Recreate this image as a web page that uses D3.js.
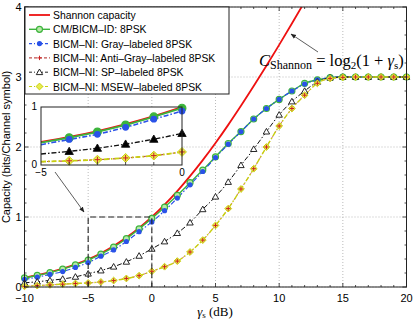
<!DOCTYPE html>
<html>
<head>
<meta charset="utf-8">
<script src="https://cdn.jsdelivr.net/npm/d3@7"></script>
<style>
  body { margin: 0; background: #fff; }
  svg { display: block; }
  text { font-family: "Liberation Sans", Arial, sans-serif; }
  text.serif { font-family: "Liberation Serif", "DejaVu Serif", serif; }
</style>
</head>
<body>
<div id="chart"></div>
<script>
// SNR grid (dB) and capacities
var snr = [-10,-9,-8,-7,-6,-5,-4,-3,-2,-1,0,1,2,3,4,5,6,7,8,9,10,11,12,13,14,15,16,17,18,19,20];
var cm = [0.13,0.165,0.205,0.255,0.315,0.385,0.47,0.57,0.69,0.83,0.98,1.14,1.31,1.49,1.67,1.86,2.05,2.22,2.40,2.55,2.68,2.80,2.91,2.96,2.99,3.0,3.0,3.0,3.0,3.0,3.0];
var gray = [0.11,0.14,0.18,0.22,0.28,0.35,0.44,0.53,0.65,0.79,0.93,1.09,1.27,1.46,1.65,1.85,2.04,2.22,2.40,2.55,2.68,2.80,2.90,2.96,2.99,3.0,3.0,3.0,3.0,3.0,3.0];
var antiGray = [0.01,0.02,0.03,0.04,0.05,0.058,0.072,0.092,0.122,0.162,0.225,0.29,0.37,0.50,0.67,0.88,1.12,1.40,1.69,2.00,2.30,2.55,2.74,2.91,2.98,2.995,3.0,3.0,3.0,3.0,3.0];
var sp = [0.06,0.075,0.095,0.115,0.145,0.19,0.235,0.29,0.36,0.445,0.545,0.65,0.77,0.92,1.11,1.29,1.50,1.74,1.97,2.22,2.46,2.65,2.80,2.93,2.99,3.0,3.0,3.0,3.0,3.0,3.0];
var msew = [0.01,0.02,0.03,0.04,0.05,0.058,0.072,0.092,0.122,0.162,0.225,0.29,0.37,0.50,0.67,0.88,1.12,1.40,1.69,2.00,2.30,2.55,2.74,2.91,2.98,2.995,3.0,3.0,3.0,3.0,3.0];
var shannonSnr = [-10,-9,-8,-7,-6,-5,-4,-3,-2,-1,0,1,2,3,4,5,6,7,8,9,10,11,12];
var shannon = [0.137,0.171,0.212,0.262,0.323,0.396,0.483,0.586,0.706,0.843,1.0,1.176,1.370,1.583,1.812,2.057,2.316,2.588,2.870,3.161,3.459,3.764,4.075];

var xTicks = [-10,-5,0,5,10,15,20];
var yTicks = [0,1,2,3,4];
var legendLabels = ["Shannon capacity","CM/BICM\u2013ID: 8PSK","BICM\u2013NI: Gray\u2013labeled 8PSK",
  "BICM\u2013NI: Anti\u2013Gray\u2013labeled 8PSK","BICM\u2013NI: SP\u2013labeled 8PSK","BICM\u2013NI: MSEW\u2013labeled 8PSK"];

var W = 415, H = 319;
var svg = d3.select('#chart').append('svg').attr('width', W).attr('height', H);

var x = d3.scaleLinear().domain([-10, 20]).range([24.5, 406.5]);
var y = d3.scaleLinear().domain([0, 4]).range([287, 7]);

var defs = svg.append('defs');
defs.append('clipPath').attr('id', 'clipMain').append('rect')
  .attr('x', x(-10)).attr('y', y(4)).attr('width', x(20) - x(-10)).attr('height', y(0) - y(4));

// grid
var grid = svg.append('g');
grid.selectAll('.gx').data(xTicks).enter().append('line')
  .attr('x1', d => x(d)).attr('x2', d => x(d)).attr('y1', y(0)).attr('y2', y(4))
  .attr('stroke', '#aaa').attr('stroke-width', 0.8).attr('stroke-dasharray', '1,2');
grid.selectAll('.gy').data(yTicks).enter().append('line')
  .attr('y1', d => y(d)).attr('y2', d => y(d)).attr('x1', x(-10)).attr('x2', x(20))
  .attr('stroke', '#aaa').attr('stroke-width', 0.8).attr('stroke-dasharray', '1,2');

// series definitions (drawing order follows the legend)
var series = [
  { name: 'cm', vals: cm, color: '#3cb43c', width: 1.4, dash: null, marker: 'circle' },
  { name: 'gray', vals: gray, color: '#2a52e8', width: 1.2, dash: '5,2,1.5,2', marker: 'dot' },
  { name: 'anti', vals: antiGray, color: '#c0504d', width: 0.8, dash: '3,3', marker: 'plus' },
  { name: 'sp', vals: sp, color: '#111', width: 1, dash: '5,2,1.5,2', marker: 'triangle' },
  { name: 'msew', vals: msew, color: '#c8d010', width: 1.4, dash: '5,2,1.5,2', marker: 'diamond' }
];

function drawMarker(g, type, cx, cy, big) {
  var s = big ? 1.3 : 1;
  if (type === 'circle') {
    g.append('circle').attr('cx', cx).attr('cy', cy).attr('r', 3 * s)
      .attr('fill', big ? '#3cb43c' : '#b8e8a8').attr('stroke', '#3cb43c').attr('stroke-width', 1.2);
  } else if (type === 'dot') {
    g.append('circle').attr('cx', cx).attr('cy', cy).attr('r', 2.6 * s).attr('fill', '#2a52e8');
  } else if (type === 'triangle') {
    var r = 3.2 * s;
    g.append('path').attr('d', 'M' + cx + ',' + (cy - r) + 'L' + (cx + r) + ',' + (cy + r * 0.75) + 'L' + (cx - r) + ',' + (cy + r * 0.75) + 'Z')
      .attr('fill', big ? '#000' : '#fff').attr('stroke', '#111').attr('stroke-width', 0.9);
  } else if (type === 'diamond') {
    var d = 3.4 * s;
    g.append('path').attr('d', 'M' + cx + ',' + (cy - d) + 'L' + (cx + d) + ',' + cy + 'L' + cx + ',' + (cy + d) + 'L' + (cx - d) + ',' + cy + 'Z')
      .attr('fill', '#e8ec50').attr('stroke', '#c8d010').attr('stroke-width', 1);
  } else if (type === 'plus') {
    var p = 2.2 * s;
    g.append('path').attr('d', 'M' + (cx - p) + ',' + cy + 'H' + (cx + p) + 'M' + cx + ',' + (cy - p) + 'V' + (cy + p))
      .attr('stroke', '#cc2020').attr('stroke-width', 1);
  }
}
// plus markers sit above the diamonds, as in the figure
var markerOrder = ['cm', 'gray', 'sp', 'msew', 'anti'];

var plot = svg.append('g').attr('clip-path', 'url(#clipMain)');
var line = d3.line().x(d => x(d[0])).y(d => y(d[1])).curve(d3.curveMonotoneX);

// Shannon
plot.append('path').datum(shannonSnr.map((s, i) => [s, shannon[i]]))
  .attr('d', line).attr('fill', 'none').attr('stroke', '#ee1111').attr('stroke-width', 1.8);

series.forEach(function (s) {
  var pts = snr.map((v, i) => [v, s.vals[i]]);
  plot.append('path').datum(pts).attr('d', line).attr('fill', 'none')
    .attr('stroke', s.color).attr('stroke-width', s.width).attr('stroke-dasharray', s.dash);
});
var mk = svg.append('g');
markerOrder.forEach(function (name) {
  var s = series.find(d => d.name === name);
  snr.forEach(function (v, i) { drawMarker(mk, s.marker, x(v), y(s.vals[i]), false); });
});

// dashed zoom box
svg.append('path')
  .attr('d', 'M' + x(-5) + ',' + y(0) + 'V' + y(1) + 'H' + x(0) + 'V' + y(0))
  .attr('fill', 'none').attr('stroke', '#222').attr('stroke-width', 1.1).attr('stroke-dasharray', '6,3');

// axes frame and ticks
var ax = svg.append('g').attr('font-size', 11);
ax.append('rect').attr('x', x(-10)).attr('y', y(4)).attr('width', x(20) - x(-10)).attr('height', y(0) - y(4))
  .attr('fill', 'none').attr('stroke', '#222').attr('stroke-width', 1);
var xMinor = d3.range(-10, 20.01, 1);
var yMinor = d3.range(0, 4.01, 0.2);
xMinor.forEach(function (v) {
  var len = (v % 5 === 0) ? 4 : 2;
  ax.append('line').attr('x1', x(v)).attr('x2', x(v)).attr('y1', y(0)).attr('y2', y(0) - len).attr('stroke', '#222').attr('stroke-width', 0.8);
  ax.append('line').attr('x1', x(v)).attr('x2', x(v)).attr('y1', y(4)).attr('y2', y(4) + len).attr('stroke', '#222').attr('stroke-width', 0.8);
});
yMinor.forEach(function (v) {
  var len = (Math.abs(v - Math.round(v)) < 1e-6) ? 4 : 2;
  ax.append('line').attr('y1', y(v)).attr('y2', y(v)).attr('x1', x(-10)).attr('x2', x(-10) + len).attr('stroke', '#222').attr('stroke-width', 0.8);
  ax.append('line').attr('y1', y(v)).attr('y2', y(v)).attr('x1', x(20)).attr('x2', x(20) - len).attr('stroke', '#222').attr('stroke-width', 0.8);
});
ax.selectAll('.xl').data(xTicks).enter().append('text')
  .attr('x', d => x(d)).attr('y', y(0) + 14.5).attr('text-anchor', 'middle')
  .text(d => d < 0 ? '\u2212' + Math.abs(d) : d);
ax.selectAll('.yl').data(yTicks).enter().append('text')
  .attr('x', x(-10) - 3).attr('y', d => y(d) + 3.5).attr('text-anchor', 'end').text(d => d);

// axis labels
svg.append('text').attr('transform', 'translate(10,' + ((y(0) + y(4)) / 2) + ') rotate(-90)')
  .attr('text-anchor', 'middle').attr('font-size', 11).text('Capacity (bits/Channel symbol)');
var xl = svg.append('text').attr('class', 'serif').attr('x', 215).attr('y', 315.5).attr('text-anchor', 'middle')
  .attr('font-size', 13);
xl.append('tspan').attr('font-style', 'italic').text('\u03b3');
xl.append('tspan').attr('font-size', 9).attr('dy', 2).text('s');
xl.append('tspan').attr('dy', -2).text(' (dB)');

// legend
var lg = svg.append('g');
lg.append('rect').attr('x', 25).attr('y', 7).attr('width', 204).attr('height', 87)
  .attr('fill', '#fff').attr('stroke', '#222').attr('stroke-width', 1);
var legendStyle = [
  { color: '#ee1111', width: 1.8, dash: null, marker: null },
  { color: '#3cb43c', width: 1.4, dash: null, marker: 'circle' },
  { color: '#2a52e8', width: 1.2, dash: '3,2,1,2', marker: 'dot' },
  { color: '#c0504d', width: 1.2, dash: '3,2', marker: 'plus' },
  { color: '#111', width: 0.9, dash: '3,2,1,2', marker: 'triangle' },
  { color: '#c8d010', width: 1.2, dash: '3,2,1,2', marker: 'diamond' }
];
legendLabels.forEach(function (lab, i) {
  var ly = 15 + i * 14.3;
  var st = legendStyle[i];
  lg.append('line').attr('x1', 29).attr('x2', 50).attr('y1', ly).attr('y2', ly)
    .attr('stroke', st.color).attr('stroke-width', st.width).attr('stroke-dasharray', st.dash);
  if (st.marker) drawMarker(lg, st.marker, 39.5, ly, false);
  lg.append('text').attr('x', 53).attr('y', ly + 4).attr('font-size', 10.4).text(lab);
});

// inset
var xi = d3.scaleLinear().domain([-5, 0]).range([41, 182]);
var yi = d3.scaleLinear().domain([0, 1]).range([165, 107]);
defs.append('clipPath').attr('id', 'clipInset').append('rect')
  .attr('x', 41).attr('y', 107).attr('width', 141).attr('height', 58);
var ins = svg.append('g');
ins.append('rect').attr('x', 41).attr('y', 107).attr('width', 141).attr('height', 58).attr('fill', '#fff');
var lineI = d3.line().x(d => xi(d[0])).y(d => yi(d[1])).curve(d3.curveMonotoneX);
var insPlot = ins.append('g').attr('clip-path', 'url(#clipInset)');
insPlot.append('path').datum(shannonSnr.map((s, i) => [s, shannon[i]]).filter(d => d[0] >= -5 && d[0] <= 0))
  .attr('d', lineI).attr('fill', 'none').attr('stroke', '#ee1111').attr('stroke-width', 1.8);
series.forEach(function (s) {
  var pts = snr.map((v, i) => [v, s.vals[i]]).filter(d => d[0] >= -5 && d[0] <= 0);
  insPlot.append('path').datum(pts).attr('d', lineI).attr('fill', 'none')
    .attr('stroke', s.color).attr('stroke-width', s.width + 0.4).attr('stroke-dasharray', s.dash);
});
markerOrder.forEach(function (name) {
  var s = series.find(d => d.name === name);
  snr.forEach(function (v, i) {
    if (v > -5 && v <= 0) drawMarker(ins, s.marker, xi(v), yi(s.vals[i]), true);
  });
});
ins.append('rect').attr('x', 41).attr('y', 107).attr('width', 141).attr('height', 58)
  .attr('fill', 'none').attr('stroke', '#222').attr('stroke-width', 1);
var insT = ins.append('g').attr('font-size', 10);
insT.append('text').attr('x', 37).attr('y', 110).attr('text-anchor', 'end').text('1');
insT.append('text').attr('x', 37).attr('y', 168).attr('text-anchor', 'end').text('0');
insT.append('text').attr('x', 41).attr('y', 176).attr('text-anchor', 'middle').text('\u22125');
insT.append('text').attr('x', 182).attr('y', 176).attr('text-anchor', 'middle').text('0');
[-4, -3, -2, -1].forEach(function (v) {
  ins.append('line').attr('x1', xi(v)).attr('x2', xi(v)).attr('y1', 165).attr('y2', 162).attr('stroke', '#222').attr('stroke-width', 0.8);
});

// annotation arrows
defs.append('marker').attr('id', 'ah').attr('viewBox', '0 0 10 10').attr('refX', 9).attr('refY', 5)
  .attr('markerWidth', 7).attr('markerHeight', 7).attr('orient', 'auto')
  .append('path').attr('d', 'M0,1L10,5L0,9Z').attr('fill', '#222');
svg.append('line').attr('x1', 318).attr('y1', 52).attr('x2', 291).attr('y2', 34)
  .attr('stroke', '#333').attr('stroke-width', 0.8).attr('marker-end', 'url(#ah)');
svg.append('line').attr('x1', 55).attr('y1', 172).attr('x2', 84).attr('y2', 212)
  .attr('stroke', '#333').attr('stroke-width', 0.8).attr('marker-end', 'url(#ah)');

var ann = svg.append('text').attr('class', 'serif').attr('x', 259).attr('y', 66)
  .attr('font-size', 16.5);
ann.append('tspan').attr('font-style', 'italic').text('C');
ann.append('tspan').attr('font-size', 12).attr('dy', 3).text('Shannon');
ann.append('tspan').attr('dy', -3).text(' = log');
ann.append('tspan').attr('font-size', 11).attr('dy', 3).text('2');
ann.append('tspan').attr('dy', -3).text('(1 + ');
ann.append('tspan').attr('font-style', 'italic').text('\u03b3');
ann.append('tspan').attr('font-size', 11).attr('dy', 3).text('s');
ann.append('tspan').attr('dy', -3).text(')');
</script>
</body>
</html>
